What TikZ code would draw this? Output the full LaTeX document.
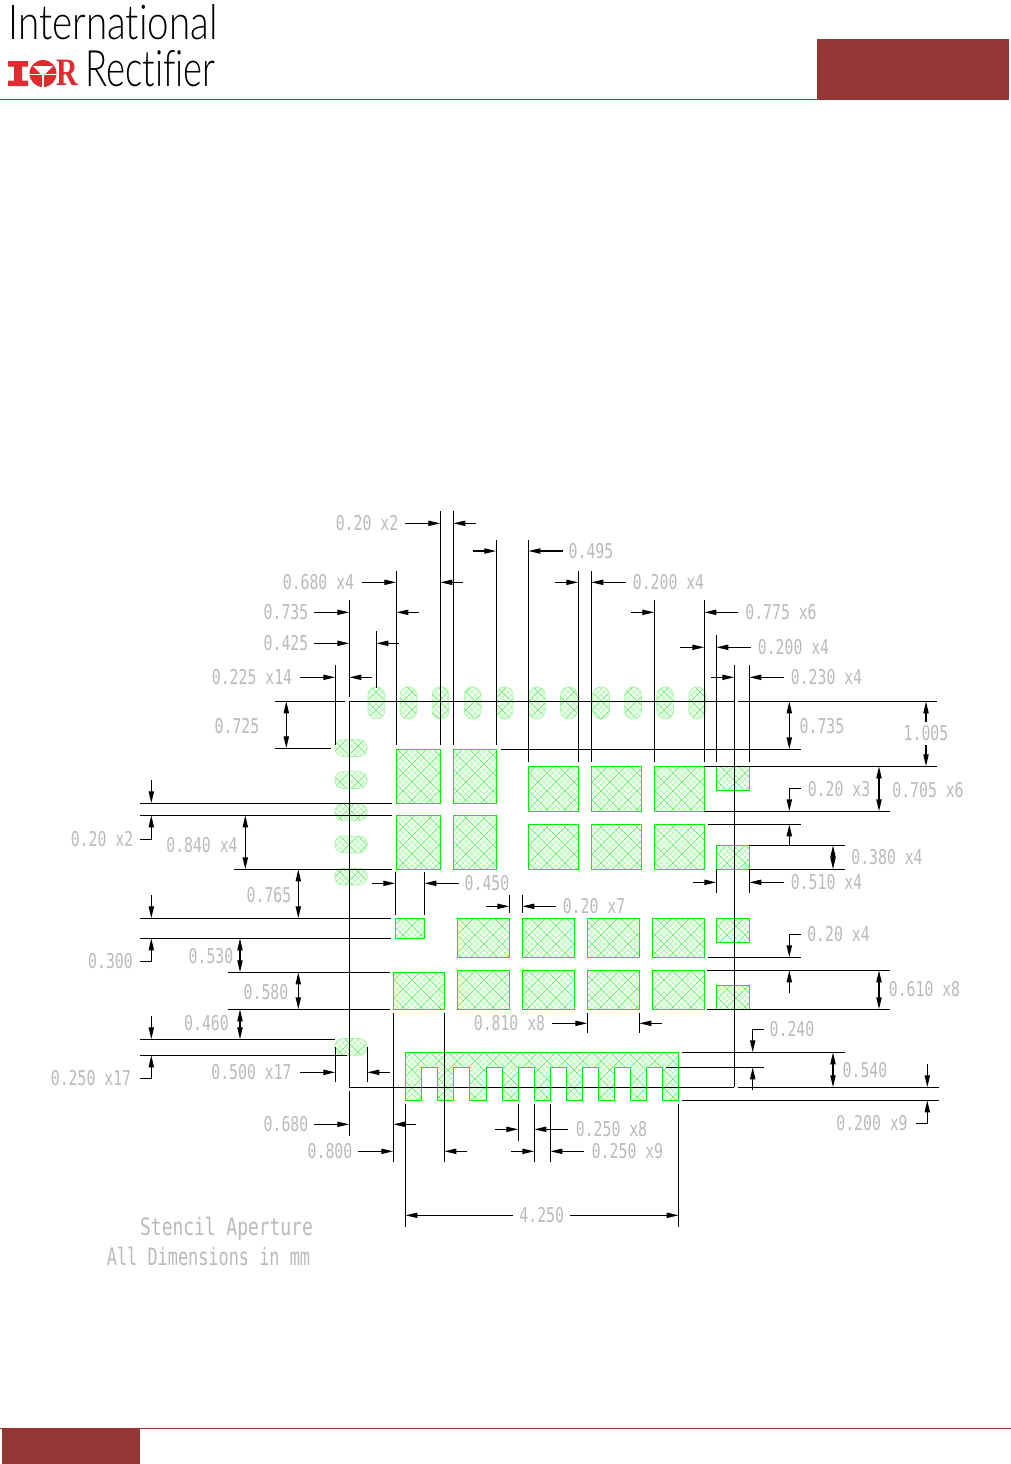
\documentclass[tikz,border=0pt]{standalone}
\usepackage{fontspec}
\usepackage{graphicx}
\usetikzlibrary{arrows.meta}
\newfontfamily\cadfont[FakeStretch=0.725]{DejaVu Sans Mono}
\newfontfamily\logofont[Ligatures=NoCommon]{Lato Light}
\newfontfamily\logobold{Liberation Serif Bold}
\definecolor{irred}{HTML}{953735}
\definecolor{logored}{HTML}{DF2A2E}
\definecolor{padgreen}{HTML}{00F000}
\definecolor{stadgreen}{HTML}{A8F4A8}
\definecolor{cadgray}{HTML}{BABABA}
\definecolor{hatchfine}{HTML}{B0F6B0}
\definecolor{hatchcoarse}{HTML}{70EC70}
\tikzset{
  ln/.style={black,line width=0.65pt},
  ar/.style={ln,-{Triangle[length=6pt,width=2.6pt]}},
  da/.style={ln,{Triangle[length=6pt,width=2.6pt]}-{Triangle[length=6pt,width=2.6pt]}},
  lbl/.style={text=cadgray,font=\cadfont\fontsize{10.2}{10.2}\selectfont,inner sep=0pt},
  captxt/.style={text=cadgray,font=\cadfont\fontsize{12}{12}\selectfont,inner sep=0pt},
}
\def\rectpads{
 (396.3,749.3) rectangle (440.7,803.3) (453.3,749.3) rectangle (496.7,803.3)
 (396.3,815.3) rectangle (440.7,869.3) (453.3,815.3) rectangle (496.7,869.3)
 (528.3,766.3) rectangle (578.7,811.3) (591.3,766.3) rectangle (641.7,811.3) (654.3,766.3) rectangle (704.7,811.3)
 (528.3,824.3) rectangle (578.7,869.3) (591.3,824.3) rectangle (641.7,869.3) (654.3,824.3) rectangle (704.7,869.3)
 (457.3,918.3) rectangle (509.7,957.3) (522.3,918.3) rectangle (574.7,957.3) (587.3,918.3) rectangle (639.7,957.3) (652.3,918.3) rectangle (704.7,957.3)
 (457.3,970.3) rectangle (509.7,1009.3) (522.3,970.3) rectangle (574.7,1009.3) (587.3,970.3) rectangle (639.7,1009.3) (652.3,970.3) rectangle (704.7,1009.3)
 (395.3,918.3) rectangle (424.7,938.3) (393.3,972.3) rectangle (444.7,1009.3)
 (716.3,766.3) rectangle (749.3,790.3) (716.3,845.3) rectangle (749.3,869.3)
 (716.3,918.3) rectangle (749.3,942.3) (716.3,985.3) rectangle (749.3,1009.3)
 (405.3,1052.3) -- (678.7,1052.3) -- (678.7,1100.3) -- (662.7,1100.3) -- (662.7,1067.3) -- (646.3,1067.3) -- (646.3,1100.3)
 -- (630.7,1100.3) -- (630.7,1067.3) -- (614.3,1067.3) -- (614.3,1100.3)
 -- (598.7,1100.3) -- (598.7,1067.3) -- (582.3,1067.3) -- (582.3,1100.3)
 -- (566.7,1100.3) -- (566.7,1067.3) -- (550.3,1067.3) -- (550.3,1100.3)
 -- (534.3,1100.3) -- (534.3,1067.3) -- (518.3,1067.3) -- (518.3,1100.3)
 -- (502.3,1100.3) -- (502.3,1067.3) -- (486.3,1067.3) -- (486.3,1100.3)
 -- (469.7,1100.3) -- (469.7,1067.3) -- (453.3,1067.3) -- (453.3,1100.3)
 -- (437.7,1100.3) -- (437.7,1067.3) -- (421.3,1067.3) -- (421.3,1100.3)
 -- (405.3,1100.3) -- cycle
}
\newcommand{\vstad}[1]{(#1-8.4,687) rectangle (#1+8.4,719)}
\newcommand{\hstad}[1]{(334.7,#1-8.4) rectangle (367.3,#1+8.4)}
\def\stads{[rounded corners=4.1pt]
 \vstad{376.3} \vstad{408.4} \vstad{440.5} \vstad{472.6} \vstad{504.7} \vstad{536.8}
 \vstad{568.9} \vstad{601} \vstad{633.1} \vstad{665.2} \vstad{697.3}
 \hstad{748} \hstad{780} \hstad{812.2} \hstad{844.4} \hstad{876.6} \hstad{1046.8}
}
\begin{document}
\begin{tikzpicture}[x=0.5pt,y=-0.5pt]
\useasboundingbox (0,0) rectangle (1011,1464);
\fill[white] (0,0) rectangle (1011,1464);
% header and footer
\fill[irred] (817,39) rectangle (1009,99);
\draw[irred,line width=0.5pt] (0,99.3) -- (1009,99.3);
\fill[irred] (2,1428) rectangle (140,1464);
\draw[irred,line width=0.5pt] (0,1428.3) -- (1011,1428.3);
\node[anchor=south west,inner sep=0pt] (intl) at (8,40) {\resizebox{104.5pt}{17.5pt}{\logofont International}};
\node[anchor=south west,inner sep=0pt] (rect) at (85,87) {\resizebox{65pt}{18pt}{\logofont Rectifier}};
\fill[logored] (8,61) -- (28,61) -- (28,66.5) -- (22,66.5) -- (22,80.5) -- (28,80.5) -- (28,86) -- (8,86) -- (8,80.5) -- (14,80.5) -- (14,66.5) -- (8,66.5) -- cycle;
\node[anchor=south west,inner sep=0pt,text=logored] (rlogo) at (56,86.2) {\resizebox{10.8pt}{12.7pt}{\logobold R}};
\fill[logored] (43,73.5) circle [radius=13.5];
\fill[white] (33,66) -- (53,66) -- (43,76) -- cycle;
\draw[white,line width=0.6pt] (29,74.5) -- (57,74.5) (43,74) -- (43,87);
% pads
\begin{scope}
\clip \rectpads \stads;
\fill[green!6] (300,650) rectangle (780,1120);
\foreach \c in {960,966,...,1880} \draw[hatchfine,line width=0.25pt] (300,\c-300) -- (800,\c-800);
\foreach \c in {-820,-814,...,100} \draw[hatchfine,line width=0.25pt] (300,300-\c) -- (800,800-\c);
\foreach \c in {960,978,...,1880} \draw[hatchcoarse,line width=0.3pt] (300,\c-300) -- (800,\c-800);
\foreach \c in {-820,-802,...,100} \draw[hatchcoarse,line width=0.3pt] (300,300-\c) -- (800,800-\c);
\end{scope}
\draw[stadgreen,line width=0.35pt] \stads;
\draw[padgreen,line width=0.7pt] \rectpads;
% horizontal extension lines
\draw[ln] (275,701.3) -- (345,701.3) (349.3,701.3) -- (734,701.3) (738,701.3) -- (937,701.3);
\draw[ln] (275,748.3) -- (331,748.3) (501,749.3) -- (801,749.3);
\draw[ln] (704,766.3) -- (937,766.3) (704,811.3) -- (890,811.3);
\draw[ln] (708,824.3) -- (801,824.3) (749,845.3) -- (845,845.3) (749,869.3) -- (845,869.3);
\draw[ln] (708,957.3) -- (801,957.3) (707,970.3) -- (890,970.3) (707,1009.3) -- (890,1009.3);
\draw[ln] (682,1052.3) -- (845,1052.3) (666,1067.3) -- (764,1067.3) (349.3,1087.3) -- (734.3,1087.3) (738,1087.3) -- (939,1087.3) (682,1100.3) -- (939,1100.3);
\draw[ln] (140,803.3) -- (392,803.3) (140,815.3) -- (392,815.3) (234,869.3) -- (392,869.3);
\draw[ln] (140,918.3) -- (391,918.3) (140,938.3) -- (391,938.3);
\draw[ln] (228,972.3) -- (390,972.3) (228,1009.3) -- (390,1009.3);
\draw[ln] (140,1039.3) -- (335,1039.3) (140,1055.3) -- (347,1055.3);
% vertical extension lines
\draw[ln] (440.3,511) -- (440.3,745) (453.3,511) -- (453.3,745) (496.3,540) -- (496.3,745) (396.3,571) -- (396.3,745);
\draw[ln] (349.3,600) -- (349.3,697) (349.3,701.3) -- (349.3,1087.3) (349.3,1091) -- (349.3,1135.7);
\draw[ln] (335.3,665) -- (335.3,745) (376.3,631) -- (376.3,688);
\draw[ln] (528.3,540) -- (528.3,762) (578.3,571) -- (578.3,762) (591.3,571) -- (591.3,762) (654.3,600) -- (654.3,762) (704.3,600) -- (704.3,762) (716.3,635) -- (716.3,762) (749.3,665) -- (749.3,762);
\draw[ln] (734.3,665) -- (734.3,1087.3);
\draw[ln] (716.3,869) -- (716.3,893) (749.3,869) -- (749.3,893);
\draw[ln] (395.3,872) -- (395.3,914.7) (424.3,872) -- (424.3,914.7) (509.3,895) -- (509.3,913) (522.3,895) -- (522.3,913);
\draw[ln] (587.3,1013) -- (587.3,1033) (639.3,1013) -- (639.3,1033);
\draw[ln] (393.3,1013) -- (393.3,1161.7) (444.3,1013) -- (444.3,1161.7);
\draw[ln] (335.3,1047) -- (335.3,1082) (367.3,1047) -- (367.3,1082);
\draw[ln] (405.3,1104) -- (405.3,1226.7) (678.7,1104) -- (678.7,1226.7);
\draw[ln] (518.3,1104) -- (518.3,1140.7) (534.3,1104) -- (534.3,1161.7) (550.3,1104) -- (550.3,1161.7);
% top arrows
\draw[ar] (405,523.3) -- (440.3,523.3); \draw[ar] (476,523.3) -- (453.3,523.3);
\draw[ar] (473,551) -- (496.3,551); \draw[ar] (563,551) -- (528.3,551);
\draw[ar] (362,582.3) -- (396.3,582.3); \draw[ar] (463,582.3) -- (440.3,582.3);
\draw[ar] (555,582.3) -- (578.3,582.3); \draw[ar] (626,582.3) -- (591.3,582.3);
\draw[ar] (314,612.3) -- (349.3,612.3); \draw[ar] (419,612.3) -- (396.3,612.3);
\draw[ar] (631,612.3) -- (654.3,612.3); \draw[ar] (738,612.3) -- (704.3,612.3);
\draw[ar] (314,643.3) -- (349.3,643.3); \draw[ar] (399,643.3) -- (376.3,643.3);
\draw[ar] (680,647.3) -- (704.3,647.3); \draw[ar] (751,647.3) -- (716.3,647.3);
\draw[ar] (300,677.3) -- (335.3,677.3); \draw[ar] (372,677.3) -- (349.3,677.3);
\draw[ar] (711,677.3) -- (734.3,677.3); \draw[ar] (784,677.3) -- (749.3,677.3);
% dimension arrows, right
\draw[da] (286.3,701.3) -- (286.3,748.3);
\draw[da] (789.3,701.3) -- (789.3,749.3);
\draw[ar] (926,722) -- (926,701.3); \draw[ar] (926,745) -- (926,766.3);
\draw[da] (879,766.3) -- (879,811.3);
\draw[ar] (801,788.5) -- (789.3,788.5) -- (789.3,811.3);
\draw[ar] (789.3,846) -- (789.3,824.3);
\draw[da] (833,845.3) -- (833,869.3);
\draw[ar] (693,882.3) -- (716.3,882.3); \draw[ar] (784,882.3) -- (749.3,882.3);
\draw[ar] (801,934.3) -- (789.3,934.3) -- (789.3,957.3);
\draw[ar] (789.3,993) -- (789.3,970.3);
\draw[da] (879,970.3) -- (879,1009.3);
\draw[ar] (764,1029.3) -- (752.7,1029.3) -- (752.7,1052.3);
\draw[ar] (752.7,1090) -- (752.7,1067.3);
\draw[da] (833,1052.3) -- (833,1087.3);
\draw[ar] (927.3,1064) -- (927.3,1087.3);
\draw[ar] (916,1123.3) -- (927.3,1123.3) -- (927.3,1100.3);
% dimension arrows, left
\draw[ar] (151.3,780) -- (151.3,803.3);
\draw[ar] (140,839.3) -- (151.3,839.3) -- (151.3,815.3);
\draw[da] (245.3,815.3) -- (245.3,869.3);
\draw[da] (298.3,869.3) -- (298.3,918.3);
\draw[ar] (151.3,895) -- (151.3,918.3);
\draw[ar] (140,961.3) -- (151.3,961.3) -- (151.3,938.3);
\draw[da] (240,938.3) -- (240,972.3);
\draw[da] (298.3,972.3) -- (298.3,1009.3);
\draw[da] (240,1009.3) -- (240,1039.3);
\draw[ar] (151.3,1016) -- (151.3,1039.3);
\draw[ar] (140,1078.3) -- (151.3,1078.3) -- (151.3,1055.3);
\draw[ar] (300,1072.3) -- (335.3,1072.3); \draw[ar] (390,1072.3) -- (367.3,1072.3);
\draw[ar] (372,883.3) -- (395.3,883.3); \draw[ar] (459,883.3) -- (424.3,883.3);
\draw[ar] (486,906.3) -- (509.3,906.3); \draw[ar] (556,906.3) -- (522.3,906.3);
\draw[ar] (552,1023.3) -- (587.3,1023.3); \draw[ar] (661.7,1023.3) -- (639.3,1023.3);
\draw[ar] (314,1124.3) -- (349.3,1124.3); \draw[ar] (416,1124.3) -- (393.3,1124.3);
\draw[ar] (358,1151.3) -- (393.3,1151.3); \draw[ar] (467,1151.3) -- (444.3,1151.3);
\draw[ar] (495,1129.3) -- (518.3,1129.3); \draw[ar] (568,1129.3) -- (534.3,1129.3);
\draw[ar] (511,1151.3) -- (534.3,1151.3); \draw[ar] (584,1151.3) -- (550.3,1151.3);
\draw[ar] (513,1215.3) -- (405.3,1215.3); \draw[ar] (570,1215.3) -- (678.7,1215.3);
% labels
\node[lbl] (l01) at (367,523) {0.20 x2};
\node[lbl] (l02) at (591,551) {0.495};
\node[lbl] (l03) at (318.5,582) {0.680 x4};
\node[lbl] (l04) at (668.5,582) {0.200 x4};
\node[lbl] (l05) at (286,612) {0.735};
\node[lbl] (l06) at (781,612) {0.775 x6};
\node[lbl] (l07) at (286,643) {0.425};
\node[lbl] (l08) at (793.5,647) {0.200 x4};
\node[lbl] (l09) at (252,677) {0.225 x14};
\node[lbl] (l10) at (826.5,677) {0.230 x4};
\node[lbl] (l11) at (237,726) {0.725};
\node[lbl] (l12) at (822,726) {0.735};
\node[lbl] (l13) at (926,733.5) {1.005};
\node[lbl] (l14) at (839,789) {0.20 x3};
\node[lbl] (l15) at (928,790) {0.705 x6};
\node[lbl] (l16) at (102,839) {0.20 x2};
\node[lbl] (l17) at (202,845) {0.840 x4};
\node[lbl] (l18) at (887,857) {0.380 x4};
\node[lbl] (l19) at (826.5,882.5) {0.510 x4};
\node[lbl] (l20) at (487,883.5) {0.450};
\node[lbl] (l21) at (269,895) {0.765};
\node[lbl] (l22) at (594,906.5) {0.20 x7};
\node[lbl] (l23) at (838.5,934.5) {0.20 x4};
\node[lbl] (l24) at (211,956) {0.530};
\node[lbl] (l25) at (110.5,961) {0.300};
\node[lbl] (l26) at (924.5,989) {0.610 x8};
\node[lbl] (l27) at (266,992) {0.580};
\node[lbl] (l28) at (206.5,1023) {0.460};
\node[lbl] (l29) at (509.5,1023) {0.810 x8};
\node[lbl] (l30) at (792,1029) {0.240};
\node[lbl] (l31) at (865,1070.5) {0.540};
\node[lbl] (l32) at (251.5,1072) {0.500 x17};
\node[lbl] (l33) at (91,1078) {0.250 x17};
\node[lbl] (l34) at (872,1123) {0.200 x9};
\node[lbl] (l35) at (286,1124.5) {0.680};
\node[lbl] (l36) at (611.5,1129.5) {0.250 x8};
\node[lbl] (l37) at (330,1151.5) {0.800};
\node[lbl] (l38) at (627.5,1151.5) {0.250 x9};
\node[lbl] (l39) at (541.7,1215.5) {4.250};
\node[captxt] (c1) at (226.5,1229) {\scalebox{1.03}[1]{Stencil Aperture}};
\node[captxt] (c2) at (208.5,1256) {\scalebox{0.97}[1]{All Dimensions in mm}};
\end{tikzpicture}
\end{document}
